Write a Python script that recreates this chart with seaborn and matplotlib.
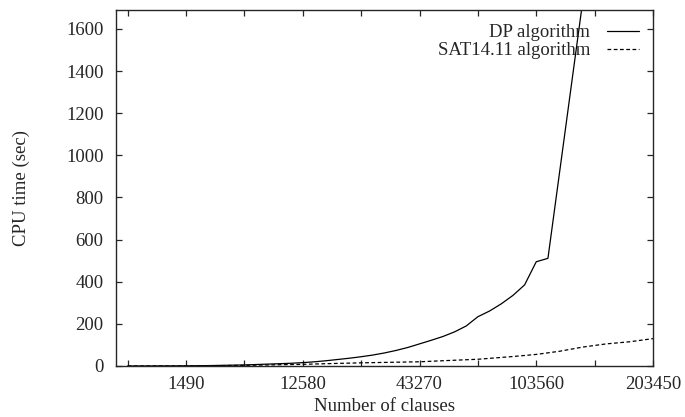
import matplotlib
matplotlib.use("Agg")
import matplotlib.pyplot as plt
import seaborn as sns
import pandas as pd
from matplotlib.ticker import FixedLocator, FixedFormatter

# Problem size index (x axis) and tick labels (number of clauses)
tick_pos = [5, 10, 15, 20, 25, 30, 35, 40, 45, 50]
tick_labels = ["", "1490", "", "12580", "", "43270", "", "103560", "", "203450"]

dp_n = [5, 6, 7, 8, 9, 10, 11, 12, 13, 14, 15, 16, 17, 18, 19, 20, 21, 22, 23, 24,
        25, 26, 27, 28, 29, 30, 31, 32, 33, 34, 35, 36, 37, 38, 39, 40, 41, 44]
dp_time = [0.1, 0.2, 0.3, 0.5, 0.7, 1, 1.5, 2, 3, 4, 5, 7, 9, 11, 13, 16, 20, 25, 31, 37,
           44, 52, 62, 74, 88, 105, 122, 140, 162, 190, 234, 261, 295, 335, 385, 495, 511, 1740]

sat_n = [5, 10, 15, 20, 22, 25, 28, 30, 32, 35, 38, 40, 42, 44, 46, 48, 50]
sat_time = [0.05, 0.5, 3, 8, 11, 15, 18, 20, 25, 32, 45, 55, 70, 90, 105, 115, 130]

series_names = ["DP algorithm", "SAT14.11 algorithm"]

df = pd.concat([
    pd.DataFrame({"n": dp_n, "time": dp_time, "alg": series_names[0]}),
    pd.DataFrame({"n": sat_n, "time": sat_time, "alg": series_names[1]}),
])

sns.set_style("ticks")
plt.rcParams["font.family"] = ["Liberation Serif", "DejaVu Serif"]
plt.rcParams["xtick.direction"] = "in"
plt.rcParams["ytick.direction"] = "in"

FS = 13.5
fig = plt.figure(figsize=(6.85, 4.17), dpi=100)
ax = fig.add_axes([116 / 685, 1 - 366 / 417, (653 - 116) / 685, (366 - 10) / 417])

sns.lineplot(data=df, x="n", y="time", hue="alg", style="alg",
             palette={series_names[0]: "black", series_names[1]: "black"},
             dashes={series_names[0]: "", series_names[1]: (3, 2)},
             linewidth=0.9, ax=ax, legend=True)

ax.set_xlim(4, 50)
ax.set_ylim(0, 1690)
ax.xaxis.set_major_locator(FixedLocator(tick_pos))
ax.xaxis.set_major_formatter(FixedFormatter(tick_labels))
ax.set_yticks(range(0, 1601, 200))
ax.tick_params(axis="both", which="both", top=True, right=True, length=4, width=0.9,
               labelsize=FS)
ax.tick_params(axis="y", pad=9)
ax.tick_params(axis="x", pad=7)
for s in ax.spines.values():
    s.set_linewidth(1.0)

ax.set_xlabel("Number of clauses", fontsize=FS, labelpad=4)
ax.set_ylabel("CPU time (sec)", fontsize=FS, labelpad=26)

handles, labels = ax.get_legend_handles_labels()
ax.legend(handles, labels, loc="upper right", frameon=False, markerfirst=False,
          fontsize=FS, handlelength=1.7, handletextpad=0.9, labelspacing=0.05,
          borderaxespad=0.35)

fig.savefig("out.png", dpi=100)
